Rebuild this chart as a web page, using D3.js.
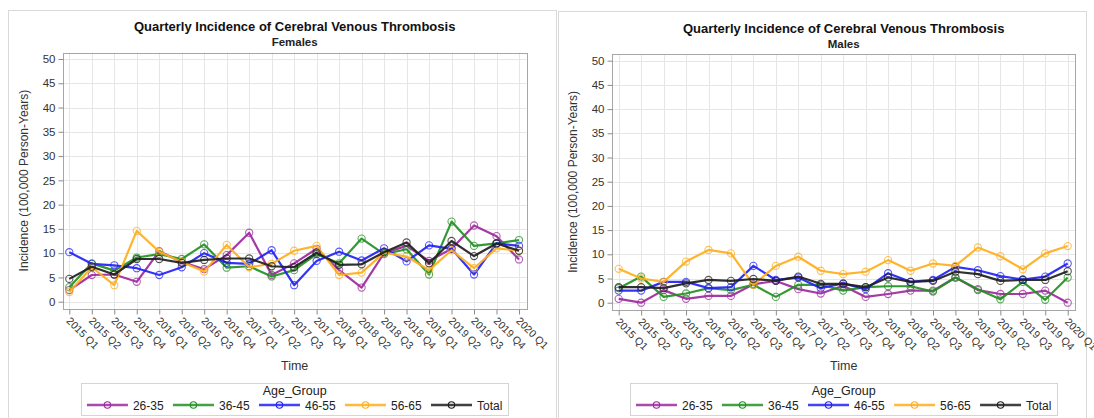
<!DOCTYPE html>
<html>
<head>
<meta charset="utf-8">
<script src="https://cdn.jsdelivr.net/npm/d3@7"></script>
<style>
  body { margin: 0; background: #fff; }
  svg text { font-family: "Liberation Sans", Arial, sans-serif; }
</style>
</head>
<body>
<div id="viz"></div>
<script>
// data (incidence per 100,000 person-years)
const quarters = ["2015 Q1","2015 Q2","2015 Q3","2015 Q4","2016 Q1","2016 Q2","2016 Q3","2016 Q4",
  "2017 Q1","2017 Q2","2017 Q3","2017 Q4","2018 Q1","2018 Q2","2018 Q3","2018 Q4",
  "2019 Q1","2019 Q2","2019 Q3","2019 Q4","2020 Q1"];
const ageGroups = ["26-35", "36-45", "46-55", "56-65", "Total"];
const groupColors = ["#9c2a9c", "#229022", "#2222f5", "#ffae1c", "#1e1e1e"];
const yTicks = [0, 5, 10, 15, 20, 25, 30, 35, 40, 45, 50];

const fem2635 = [2.4, 5.5, 5.6, 4.1, 10.4, 8.2, 6.7, 9.6, 14.2, 5.5, 7.9, 10.9, 6.5, 2.9, 10.0, 11.5, 8.4, 10.9, 15.7, 13.5, 8.7];
const fem3645 = [3.0, 7.9, 6.4, 9.1, 9.8, 8.8, 11.8, 7.0, 7.3, 5.2, 6.5, 9.8, 7.9, 13.0, 9.8, 10.8, 5.6, 16.5, 11.5, 12.0, 12.7];
const fem4655 = [10.2, 7.8, 7.5, 6.9, 5.5, 7.1, 10.0, 8.0, 7.8, 10.6, 3.4, 8.4, 10.3, 8.5, 11.0, 8.3, 11.6, 10.9, 5.6, 12.0, 11.5];
const fem5665 = [2.0, 7.1, 3.4, 14.6, 10.3, 8.2, 6.2, 11.7, 7.1, 7.8, 10.5, 11.5, 5.5, 6.0, 10.1, 9.3, 6.5, 10.6, 6.9, 11.0, 10.5];
const femTotal = [4.7, 7.2, 5.6, 8.8, 8.8, 8.0, 8.6, 8.9, 8.9, 7.3, 7.1, 10.1, 7.6, 7.7, 10.2, 12.2, 7.9, 12.5, 9.4, 12.0, 10.5];

const mal2635 = [0.8, 0, 2.6, 0.8, 1.4, 1.4, 3.8, 4.5, 2.8, 1.9, 3.5, 1.2, 1.8, 2.5, 2.5, 5.2, 2.6, 1.8, 1.8, 2.5, 0];
const mal3645 = [3.0, 5.4, 1.2, 1.9, 3.0, 2.6, 3.7, 1.2, 3.7, 3.7, 2.5, 3.2, 3.4, 3.4, 2.3, 5.2, 2.8, 0.7, 4.3, 0.6, 5.2];
const mal4655 = [2.5, 2.5, 4.3, 4.3, 3.0, 3.2, 7.6, 4.7, 5.2, 3.0, 4.0, 2.8, 6.1, 4.3, 4.7, 7.4, 6.7, 5.5, 4.8, 5.4, 8.1];
const mal5665 = [7.0, 5.0, 4.3, 8.5, 10.9, 10.2, 3.7, 7.6, 9.5, 6.6, 5.9, 6.4, 8.8, 6.6, 8.1, 7.6, 11.4, 9.6, 6.9, 10.2, 11.7];
const malTotal = [3.2, 3.2, 3.0, 4.0, 4.7, 4.5, 4.9, 4.5, 5.4, 3.9, 3.9, 3.2, 5.2, 4.3, 4.5, 6.4, 5.9, 4.5, 4.7, 4.7, 6.5];

const svg = d3.select("#viz").append("svg")
  .attr("width", 1094).attr("height", 418);

function drawPanel(p) {
  const g = svg.append("g");

  // panel frame
  g.append("rect")
    .attr("x", p.box[0] + .5).attr("y", p.box[1] + .5)
    .attr("width", p.box[2]).attr("height", 440)
    .attr("fill", "#fff").attr("stroke", "#d9d9d9");

  const x = d3.scalePoint().domain(quarters).range([p.left, p.right]);
  const y = d3.scaleLinear().domain([0, 50]).range([p.bottom, p.top]);

  const fx0 = p.left - 6.5, fx1 = p.right + 7.5;
  const fy0 = y(50) - 6.5, fy1 = y(0) + 7;

  // grid
  g.append("g").selectAll("line").data(yTicks).join("line")
    .attr("x1", fx0).attr("x2", fx1)
    .attr("y1", d => Math.round(y(d)) + .5).attr("y2", d => Math.round(y(d)) + .5)
    .attr("stroke", "#e6e6e6");
  g.append("g").selectAll("line").data(quarters).join("line")
    .attr("x1", d => Math.round(x(d)) + .5).attr("x2", d => Math.round(x(d)) + .5)
    .attr("y1", fy0).attr("y2", fy1)
    .attr("stroke", "#e6e6e6");

  g.append("rect")
    .attr("x", Math.round(fx0) + .5).attr("y", Math.round(fy0) + .5)
    .attr("width", Math.round(fx1 - fx0)).attr("height", Math.round(fy1 - fy0))
    .attr("fill", "none").attr("stroke", "#a6a6a6");

  // y axis
  const ya = g.append("g")
    .attr("transform", `translate(${Math.round(fx0) + .5},0)`)
    .call(d3.axisLeft(y).tickValues(yTicks).tickSize(5).tickPadding(3));
  ya.select(".domain").remove();
  ya.selectAll("line").attr("stroke", "#8c8c8c");
  ya.selectAll("text").attr("fill", "#333").style("font-size", "11.5px");

  // x axis
  const xa = g.append("g")
    .attr("transform", `translate(0,${Math.round(fy1) + .5})`)
    .call(d3.axisBottom(x).tickSize(5));
  xa.select(".domain").remove();
  xa.selectAll("line").attr("stroke", "#8c8c8c");
  xa.selectAll("text")
    .attr("x", 0).attr("y", 0).attr("dy", 0)
    .attr("transform", "translate(-4,12) rotate(45)")
    .attr("text-anchor", "start")
    .attr("fill", "#333").style("font-size", "10.5px");

  // titles
  const cx = (fx0 + fx1) / 2;
  g.append("text").attr("x", cx).attr("y", p.titleY)
    .attr("text-anchor", "middle").style("font-weight", "bold").style("font-size", "13px")
    .attr("fill", "#111").text("Quarterly Incidence of Cerebral Venous Thrombosis");
  g.append("text").attr("x", cx).attr("y", p.titleY + 15)
    .attr("text-anchor", "middle").style("font-weight", "bold").style("font-size", "11.5px")
    .attr("fill", "#222").text(p.sub);

  g.append("text")
    .attr("transform", `translate(${p.ylabX},${(fy0 + fy1) / 2}) rotate(-90)`)
    .attr("text-anchor", "middle").style("font-size", "12px").attr("fill", "#333")
    .text("Incidence (100,000 Person-Years)");
  g.append("text").attr("x", cx).attr("y", 370)
    .attr("text-anchor", "middle").style("font-size", "12.5px").attr("fill", "#333")
    .text("Time");

  // lines + markers
  const line = d3.line().x((d, i) => x(quarters[i])).y(d => y(d));
  p.series.forEach((vals, k) => {
    const sg = g.append("g");
    sg.append("path").datum(vals)
      .attr("d", line).attr("fill", "none")
      .attr("stroke", groupColors[k]).attr("stroke-width", 2.2)
      .attr("stroke-opacity", .92).attr("stroke-linejoin", "round");
    sg.selectAll("circle").data(vals).join("circle")
      .attr("cx", (d, i) => x(quarters[i])).attr("cy", d => y(d))
      .attr("r", 3.6).attr("fill", "none")
      .attr("stroke", groupColors[k]).attr("stroke-width", 1.1)
      .attr("stroke-opacity", .75);
  });

  // legend
  const lg = g.append("g");
  const items = lg.selectAll("g").data(ageGroups).join("g");
  items.append("line").attr("x1", 0).attr("x2", 41).attr("y1", 0).attr("y2", 0)
    .attr("stroke", (d, i) => groupColors[i]).attr("stroke-width", 2.4).attr("stroke-opacity", .85);
  items.append("circle").attr("cx", 20.5).attr("cy", 0).attr("r", 3.2)
    .attr("fill", "none").attr("stroke", (d, i) => groupColors[i]).attr("stroke-width", 1.1);
  items.append("text").attr("x", 46).attr("y", 4.5)
    .style("font-size", "12px").attr("fill", "#222").text(d => d);
  const gap = 9;
  const offs = [];
  let off = 0;
  items.each(function () {
    offs.push(off);
    off += this.getBBox().width + gap;
  });
  const totalW = off - gap;
  const lx = cx - totalW / 2;
  items.attr("transform", (d, i) => `translate(${lx + offs[i]},405)`);
  lg.insert("rect", ":first-child")
    .attr("x", Math.round(lx - 6) + .5).attr("y", 383.5)
    .attr("width", Math.round(totalW + 12)).attr("height", 32)
    .attr("fill", "#fff").attr("stroke", "#d4d4d4");
  lg.append("text").attr("x", cx).attr("y", 395)
    .attr("text-anchor", "middle").style("font-size", "12.5px").attr("fill", "#222")
    .text("Age_Group");
}

drawPanel({
  box: [8, 10, 548], sub: "Females", titleY: 31, ylabX: 28,
  left: 69.3, right: 519, top: 59, bottom: 301.7,
  series: [fem2635, fem3645, fem4655, fem5665, femTotal]
});
drawPanel({
  box: [558, 11, 528], sub: "Males", titleY: 33, ylabX: 577,
  left: 618.7, right: 1067.7, top: 60.7, bottom: 302.7,
  series: [mal2635, mal3645, mal4655, mal5665, malTotal]
});
</script>
</body>
</html>
